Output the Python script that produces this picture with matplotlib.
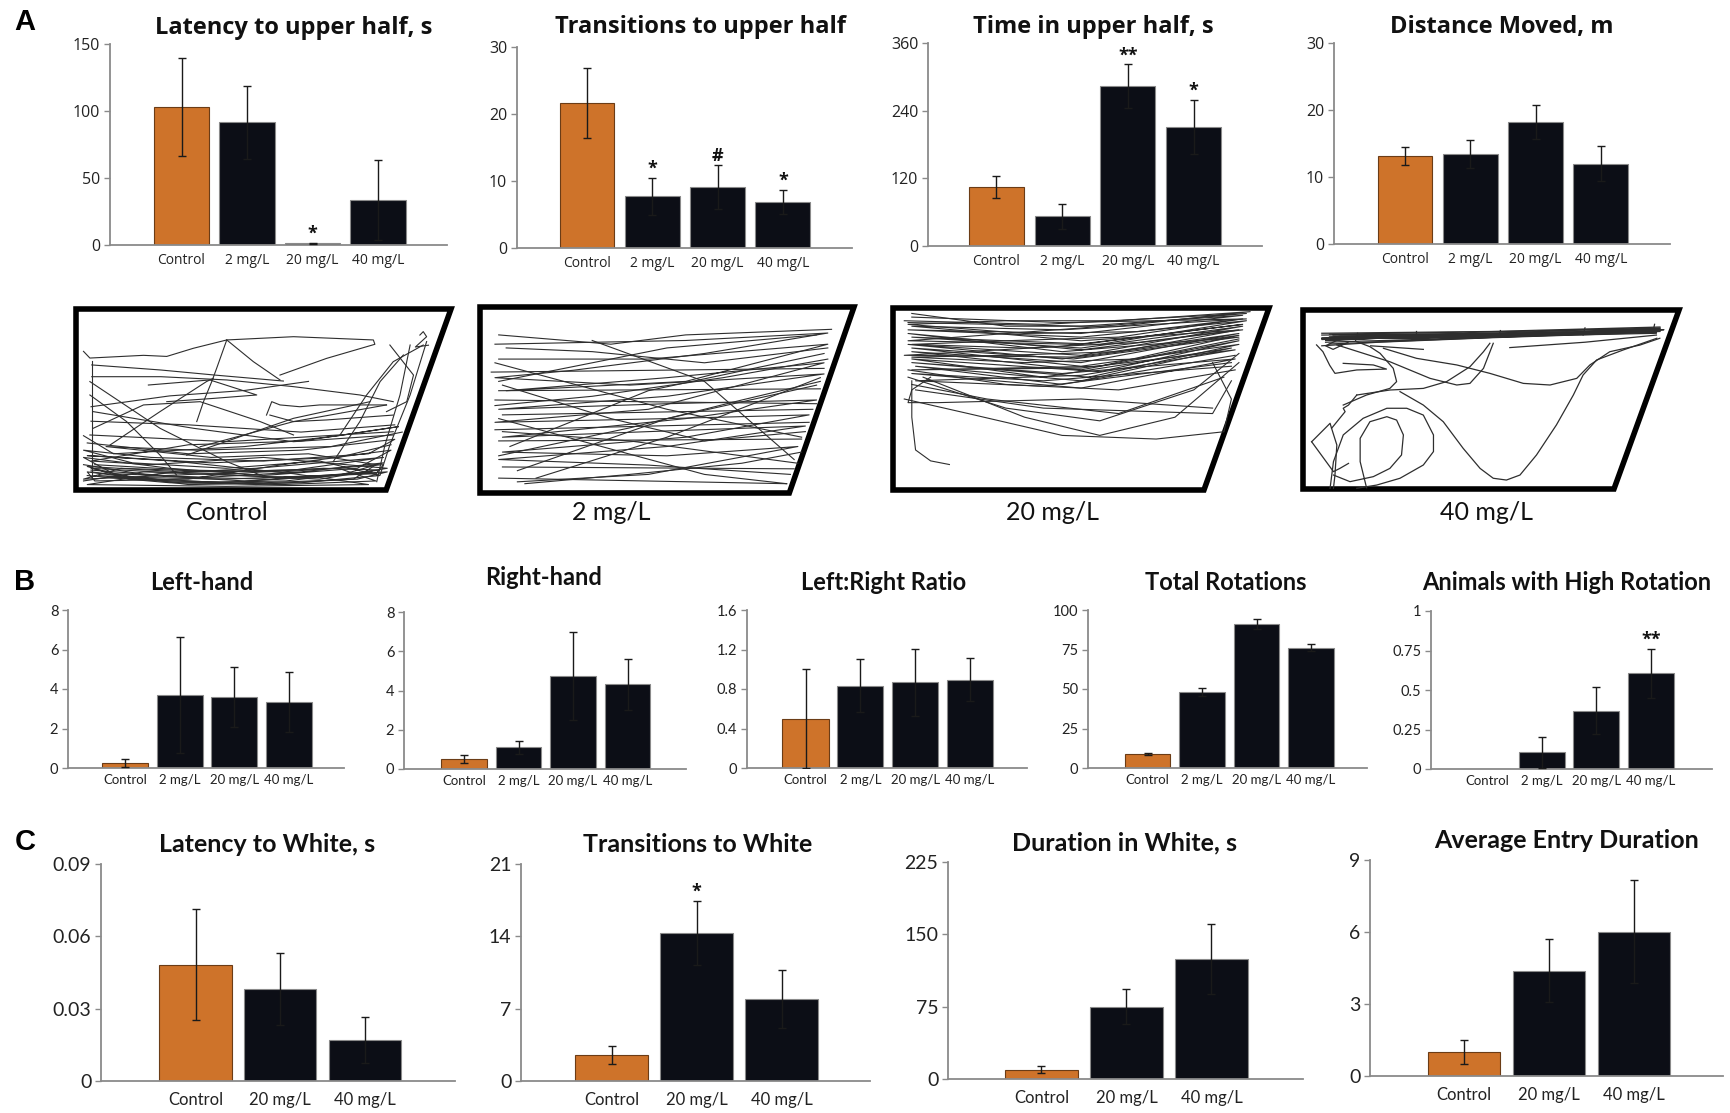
import matplotlib
matplotlib.use('Agg')
import matplotlib.pyplot as plt
from matplotlib import font_manager as fm
from matplotlib.patches import Polygon

W, H = 1730, 1113
fig = plt.figure(figsize=(W / 100, H / 100), dpi=100)

avail = {f.name for f in fm.fontManager.ttflist}


def pick(*names):
    for n in names:
        if n in avail:
            return n
    return 'DejaVu Sans'


FA = pick('Open Sans', 'Lato')
FB = pick('Lato', 'Open Sans')
FL = pick('Liberation Sans', 'DejaVu Sans')

ORANGE = '#CE732A'
DARK = '#0C0E16'
SPINE = '#8A8A8A'
TXT = '#222222'

# ---------------- data ----------------
cats4 = ['Control', '2 mg/L', '20 mg/L', '40 mg/L']
cats3 = ['Control', '20 mg/L', '40 mg/L']

latency_upper = [103, 91.5, 1.2, 33.6]
latency_upper_err = [36.5, 27, 0.3, 29.5]
transitions_upper = [21.6, 7.7, 9.1, 6.9]
transitions_upper_err = [5.2, 2.8, 3.3, 1.8]
time_upper = [105, 53, 283, 211]
time_upper_err = [19.5, 22, 39, 48.5]
distance = [13.2, 13.4, 18.2, 12.0]
distance_err = [1.35, 2.1, 2.6, 2.6]

left_hand = [0.25, 3.7, 3.6, 3.33]
left_hand_err = [0.2, 2.95, 1.5, 1.53]
right_hand = [0.51, 1.1, 4.75, 4.32]
right_hand_err = [0.19, 0.32, 2.23, 1.3]
lr_ratio = [0.5, 0.835, 0.866, 0.896]
lr_ratio_err = [0.5, 0.27, 0.34, 0.22]
total_rot = [9.0, 48, 91, 76.2]
total_rot_err = [0.5, 2.5, 3.3, 2.1]
high_rot = [0.0, 0.105, 0.369, 0.605]
high_rot_err = [0.0, 0.1, 0.15, 0.155]

lat_white = [0.0483, 0.0382, 0.017]
lat_white_err = [0.023, 0.0148, 0.0096]
trans_white = [2.52, 14.3, 7.9]
trans_white_err = [0.87, 3.1, 2.8]
dur_white = [9.6, 75.1, 124.4]
dur_white_err = [3.5, 18, 36]
avg_entry = [0.99, 4.39, 6.01]
avg_entry_err = [0.5, 1.3, 2.14]

ticks_lat_upper = [0, 50, 100, 150]
ticks_trans_upper = [0, 10, 20, 30]
ticks_time_upper = [0, 120, 240, 360]
ticks_distance = [0, 10, 20, 30]
ticks_left = [0, 2, 4, 6, 8]
ticks_right = [0, 2, 4, 6, 8]
ticks_lr = [0, 0.4, 0.8, 1.2, 1.6]
ticks_total = [0, 25, 50, 75, 100]
ticks_high = [0, 0.25, 0.5, 0.75, 1]
ticklabels_high = ['0', '0.25', '0.5', '0.75', '1']
ticks_lat_white = [0, 0.03, 0.06, 0.09]
ticks_trans_white = [0, 7, 14, 21]
ticks_dur_white = [0, 75, 150, 225]
ticks_avg_entry = [0, 3, 6, 9]

# trajectory traces (arena units: x 0 = left wall, 1 = top-right corner; y 0 = bottom, 1 = top)
ctrl_paths = [
    [(0.02, 0.14), (0.20, 0.08), (0.45, 0.05), (0.70, 0.08), (0.82, 0.15), (0.60, 0.10), (0.35, 0.07), (0.10, 0.09), (0.02, 0.18), (0.25, 0.12), (0.50, 0.08), (0.75, 0.12), (0.84, 0.22), (0.55, 0.14), (0.30, 0.06), (0.05, 0.05), (0.03, 0.10), (0.30, 0.03), (0.60, 0.04), (0.81, 0.08), (0.65, 0.16), (0.40, 0.12), (0.15, 0.15), (0.02, 0.22), (0.20, 0.18), (0.50, 0.16), (0.78, 0.20), (0.85, 0.28), (0.60, 0.22), (0.30, 0.20), (0.03, 0.26)],
    [(0.03, 0.08), (0.25, 0.04), (0.55, 0.03), (0.80, 0.05), (0.70, 0.12), (0.40, 0.10), (0.12, 0.12), (0.02, 0.06), (0.35, 0.09), (0.65, 0.06), (0.83, 0.12), (0.50, 0.18), (0.20, 0.14), (0.04, 0.16), (0.30, 0.25), (0.60, 0.27), (0.86, 0.35), (0.70, 0.30), (0.45, 0.24), (0.10, 0.20), (0.02, 0.30)],
    [(0.04, 0.11), (0.30, 0.07), (0.52, 0.06), (0.79, 0.10), (0.62, 0.07), (0.38, 0.04), (0.14, 0.06), (0.03, 0.13), (0.28, 0.10), (0.58, 0.11), (0.82, 0.18), (0.48, 0.12), (0.22, 0.09), (0.03, 0.03), (0.40, 0.02), (0.78, 0.03), (0.58, 0.09), (0.26, 0.16), (0.03, 0.19), (0.36, 0.15), (0.70, 0.18), (0.84, 0.25)],
    [(0.02, 0.05), (0.18, 0.10), (0.42, 0.09), (0.66, 0.12), (0.81, 0.11), (0.56, 0.05), (0.28, 0.04), (0.06, 0.08), (0.22, 0.06), (0.48, 0.03), (0.74, 0.06), (0.80, 0.14), (0.62, 0.20), (0.36, 0.18), (0.08, 0.24), (0.32, 0.22), (0.68, 0.24), (0.87, 0.32)],
    [(0.04, 0.10), (0.25, 0.05), (0.50, 0.04), (0.75, 0.06), (0.83, 0.10), (0.65, 0.08), (0.40, 0.06), (0.15, 0.07), (0.04, 0.12), (0.30, 0.09), (0.55, 0.07), (0.80, 0.09), (0.82, 0.14), (0.55, 0.10), (0.30, 0.11), (0.05, 0.14)],
    [(0.020, 0.766), (0.037, 0.729), (0.180, 0.744), (0.242, 0.738), (0.313, 0.783), (0.402, 0.829), (0.580, 0.847), (0.793, 0.829), (0.797, 0.805), (0.668, 0.727), (0.544, 0.635)],
    [(0.402, 0.829), (0.375, 0.672), (0.362, 0.599), (0.340, 0.488), (0.322, 0.378)],
    [(0.402, 0.829), (0.473, 0.709), (0.544, 0.608)],
    [(0.042, 0.691), (0.226, 0.663), (0.370, 0.635), (0.553, 0.602)],
    [(0.042, 0.626), (0.226, 0.626), (0.402, 0.608), (0.580, 0.571), (0.757, 0.525), (0.846, 0.488)],
    [(0.193, 0.580), (0.357, 0.608), (0.482, 0.525), (0.366, 0.506), (0.242, 0.488)],
    [(0.508, 0.414), (0.522, 0.488), (0.544, 0.470), (0.597, 0.460), (0.650, 0.470), (0.828, 0.470)],
    [(0.517, 0.414), (0.580, 0.378), (0.668, 0.387), (0.846, 0.414)],
    [(0.331, 0.239), (0.580, 0.378), (0.828, 0.470)],
    [(0.935, 0.820), (0.891, 0.525), (0.837, 0.249), (0.811, 0.083)],
    [(0.891, 0.801), (0.864, 0.525), (0.824, 0.249), (0.802, 0.046)],
    [(0.837, 0.801), (0.900, 0.635), (0.882, 0.488), (0.828, 0.433)],
    [(0.704, 0.304), (0.775, 0.525), (0.846, 0.709), (0.926, 0.801)],
    [(0.686, 0.157), (0.757, 0.378), (0.811, 0.599), (0.873, 0.746)],
    [(0.917, 0.856), (0.926, 0.875), (0.935, 0.847), (0.905, 0.790), (0.940, 0.800)],
    [(0.037, 0.599), (0.224, 0.341), (0.402, 0.157), (0.491, 0.083)],
    [(0.037, 0.525), (0.135, 0.378), (0.224, 0.193), (0.268, 0.083)],
    [(0.091, 0.249), (0.224, 0.433), (0.348, 0.599), (0.366, 0.617)],
    [(0.046, 0.341), (0.180, 0.470), (0.331, 0.488), (0.491, 0.378), (0.580, 0.304)],
    [(0.295, 0.193), (0.580, 0.396), (0.784, 0.488)],
    [(0.046, 0.433), (0.313, 0.341), (0.580, 0.267), (0.846, 0.304)],
    [(0.037, 0.304), (0.402, 0.267), (0.846, 0.322)],
    [(0.042, 0.710), (0.042, 0.065)],
    [(0.04, 0.38), (0.30, 0.36), (0.60, 0.32), (0.85, 0.36)],
    [(0.04, 0.46), (0.25, 0.52), (0.45, 0.55), (0.62, 0.60)],
]

mg2_paths = [
    [(0.04, 0.80), (0.55, 0.82), (0.93, 0.86), (0.60, 0.75), (0.25, 0.66), (0.04, 0.62), (0.40, 0.58), (0.92, 0.64), (0.50, 0.52), (0.05, 0.45), (0.50, 0.48), (0.90, 0.50), (0.55, 0.40), (0.06, 0.30), (0.45, 0.33), (0.87, 0.36), (0.50, 0.25), (0.05, 0.18), (0.45, 0.15), (0.83, 0.10)],
    [(0.05, 0.72), (0.45, 0.72), (0.93, 0.80), (0.55, 0.60), (0.07, 0.55), (0.50, 0.62), (0.92, 0.70), (0.45, 0.45), (0.04, 0.38), (0.50, 0.40), (0.88, 0.42), (0.55, 0.30), (0.06, 0.22), (0.50, 0.20), (0.85, 0.25), (0.45, 0.10), (0.10, 0.06)],
    [(0.05, 0.60), (0.50, 0.78), (0.90, 0.85)],
    [(0.08, 0.25), (0.45, 0.55), (0.92, 0.75)],
    [(0.10, 0.12), (0.50, 0.40), (0.90, 0.58)],
    [(0.05, 0.40), (0.60, 0.10), (0.82, 0.05)],
    [(0.04, 0.70), (0.50, 0.45), (0.86, 0.30)],
    [(0.30, 0.82), (0.60, 0.60), (0.84, 0.18)],
    [(0.15, 0.08), (0.50, 0.30), (0.91, 0.62)],
    [(0.05, 0.85), (0.35, 0.80), (0.55, 0.85), (0.94, 0.88)],
    [(0.03, 0.65), (0.92, 0.67)],
    [(0.04, 0.50), (0.90, 0.48)],
    [(0.04, 0.34), (0.88, 0.38)],
    [(0.06, 0.14), (0.84, 0.13)],
    [(0.05, 0.55), (0.91, 0.56)],
    [(0.06, 0.42), (0.89, 0.45)],
    [(0.05, 0.28), (0.86, 0.29)],
    [(0.05, 0.08), (0.82, 0.05)],
    [(0.07, 0.78), (0.30, 0.76), (0.60, 0.70), (0.93, 0.78)],
    [(0.04, 0.47), (0.30, 0.52), (0.65, 0.62), (0.93, 0.72)],
    [(0.06, 0.33), (0.40, 0.28), (0.70, 0.20), (0.85, 0.16)],
    [(0.12, 0.05), (0.40, 0.10), (0.70, 0.16), (0.86, 0.22)],
    [(0.05, 0.20), (0.40, 0.35), (0.70, 0.50), (0.91, 0.60)],
    [(0.06, 0.58), (0.35, 0.40), (0.60, 0.28), (0.87, 0.33)],
]

mg20_paths = [
    [(0.04, 0.92), (0.50, 0.90), (0.93, 0.96), (0.50, 0.86), (0.04, 0.88), (0.50, 0.84), (0.94, 0.93), (0.55, 0.80), (0.05, 0.84), (0.50, 0.78), (0.93, 0.90), (0.50, 0.74), (0.04, 0.80), (0.45, 0.72), (0.92, 0.86), (0.50, 0.70), (0.05, 0.76), (0.50, 0.66), (0.92, 0.82), (0.55, 0.65), (0.05, 0.72), (0.40, 0.62), (0.90, 0.78), (0.50, 0.60), (0.06, 0.68), (0.45, 0.58), (0.91, 0.74)],
    [(0.05, 0.95), (0.45, 0.92), (0.94, 0.94), (0.45, 0.88), (0.05, 0.90), (0.50, 0.82), (0.93, 0.88), (0.50, 0.77), (0.04, 0.86), (0.45, 0.76), (0.92, 0.84), (0.48, 0.72), (0.05, 0.78), (0.50, 0.68), (0.92, 0.80), (0.52, 0.62), (0.05, 0.70), (0.45, 0.64), (0.91, 0.72), (0.50, 0.56), (0.05, 0.64), (0.40, 0.60), (0.90, 0.68)],
    [(0.03, 0.93), (0.40, 0.91), (0.94, 0.97), (0.50, 0.89), (0.04, 0.82), (0.50, 0.80), (0.93, 0.91), (0.45, 0.79), (0.03, 0.74), (0.50, 0.73), (0.92, 0.85), (0.55, 0.68), (0.05, 0.66), (0.50, 0.67), (0.91, 0.77), (0.50, 0.63), (0.06, 0.60), (0.40, 0.57), (0.90, 0.70)],
    [(0.05, 0.97), (0.30, 0.90), (0.60, 0.90), (0.95, 0.98), (0.60, 0.93), (0.30, 0.93), (0.04, 0.91), (0.35, 0.86), (0.65, 0.87), (0.93, 0.94), (0.60, 0.84), (0.30, 0.82), (0.05, 0.80), (0.35, 0.78), (0.65, 0.81), (0.92, 0.88), (0.60, 0.76), (0.30, 0.74), (0.05, 0.73), (0.35, 0.70), (0.65, 0.72), (0.92, 0.83)],
    [(0.04, 0.62), (0.30, 0.45), (0.55, 0.38), (0.80, 0.55), (0.92, 0.75)],
    [(0.05, 0.58), (0.25, 0.50), (0.60, 0.42), (0.88, 0.62)],
    [(0.03, 0.50), (0.20, 0.42), (0.45, 0.30), (0.70, 0.28), (0.88, 0.32), (0.90, 0.50), (0.85, 0.70)],
    [(0.06, 0.55), (0.40, 0.45), (0.85, 0.42), (0.90, 0.60)],
    [(0.08, 0.62), (0.35, 0.40), (0.55, 0.30), (0.75, 0.40), (0.92, 0.70)],
    [(0.05, 0.60), (0.05, 0.40), (0.06, 0.22), (0.10, 0.16), (0.15, 0.14)],
    [(0.10, 0.62), (0.05, 0.55), (0.04, 0.48), (0.12, 0.48), (0.50, 0.50), (0.85, 0.45)],
    [(0.04, 0.66), (0.30, 0.58), (0.60, 0.55), (0.91, 0.66)],
]

mg40_paths = [
    [(0.05, 0.84), (0.30, 0.845), (0.60, 0.86), (0.95, 0.89), (0.60, 0.865), (0.30, 0.85), (0.06, 0.83), (0.35, 0.855), (0.65, 0.87), (0.95, 0.88), (0.65, 0.86), (0.30, 0.84), (0.05, 0.845), (0.40, 0.86), (0.70, 0.875), (0.95, 0.895), (0.70, 0.87), (0.35, 0.86), (0.07, 0.85), (0.40, 0.85), (0.70, 0.865), (0.94, 0.885)],
    [(0.06, 0.82), (0.30, 0.835), (0.55, 0.85), (0.80, 0.87), (0.95, 0.89), (0.75, 0.875), (0.45, 0.865), (0.10, 0.855), (0.05, 0.835), (0.30, 0.855), (0.60, 0.87), (0.85, 0.88), (0.94, 0.87), (0.60, 0.855), (0.30, 0.83), (0.07, 0.81)],
    [(0.08, 0.86), (0.40, 0.865), (0.75, 0.88), (0.95, 0.90), (0.70, 0.885), (0.40, 0.875), (0.07, 0.865), (0.45, 0.855), (0.80, 0.87), (0.96, 0.89), (0.70, 0.865), (0.45, 0.87), (0.10, 0.84), (0.06, 0.80), (0.08, 0.78), (0.12, 0.82)],
    [(0.05, 0.86), (0.50, 0.87), (0.95, 0.905), (0.50, 0.88), (0.05, 0.87)],
    [(0.05, 0.80), (0.20, 0.82), (0.50, 0.845), (0.94, 0.875)],
    [(0.55, 0.79), (0.75, 0.82), (0.94, 0.86)],
    [(0.18, 0.80), (0.32, 0.78)],
    [(0.30, 0.84), (0.30, 0.88)], [(0.745, 0.86), (0.75, 0.90)], [(0.93, 0.87), (0.935, 0.92)],
    [(0.52, 0.85), (0.525, 0.885)], [(0.14, 0.83), (0.145, 0.87)],
    [(0.036, 0.805), (0.053, 0.767), (0.071, 0.691), (0.085, 0.646), (0.143, 0.665), (0.222, 0.670), (0.187, 0.693), (0.107, 0.702)],
    [(0.090, 0.805), (0.231, 0.711), (0.338, 0.618), (0.409, 0.581), (0.444, 0.590), (0.480, 0.674), (0.506, 0.814)],
    [(0.214, 0.786), (0.302, 0.730), (0.409, 0.693), (0.497, 0.646), (0.586, 0.590), (0.657, 0.581), (0.728, 0.618), (0.763, 0.693), (0.816, 0.767), (0.896, 0.804), (0.949, 0.842)],
    [(0.143, 0.525), (0.231, 0.553), (0.320, 0.562), (0.382, 0.600), (0.444, 0.683), (0.480, 0.767), (0.497, 0.814)],
    [(0.258, 0.544), (0.320, 0.469), (0.373, 0.376), (0.426, 0.227), (0.471, 0.115), (0.506, 0.060), (0.541, 0.050), (0.577, 0.078), (0.621, 0.190), (0.674, 0.358), (0.719, 0.525), (0.745, 0.637), (0.781, 0.721), (0.852, 0.777), (0.941, 0.842)],
    [(0.107, 0.469), (0.169, 0.525), (0.231, 0.562), (0.249, 0.600), (0.240, 0.674), (0.205, 0.758), (0.178, 0.795), (0.143, 0.823)],
    [(0.072, 0.004), (0.081, 0.153), (0.107, 0.302), (0.160, 0.395), (0.223, 0.451), (0.276, 0.451), (0.320, 0.413), (0.347, 0.302), (0.347, 0.209), (0.320, 0.134), (0.258, 0.060), (0.196, 0.022), (0.143, 0.004)],
    [(0.169, 0.007), (0.152, 0.153), (0.152, 0.283), (0.178, 0.376), (0.223, 0.404), (0.249, 0.385), (0.267, 0.302), (0.262, 0.190), (0.231, 0.115), (0.187, 0.069), (0.125, 0.041), (0.081, 0.078)],
    [(0.023, 0.264), (0.072, 0.367), (0.076, 0.339), (0.112, 0.432), (0.107, 0.451), (0.121, 0.469), (0.143, 0.525)],
    [(0.023, 0.264), (0.081, 0.097), (0.098, 0.115), (0.121, 0.143)],
    [(0.076, 0.339), (0.090, 0.246), (0.085, 0.078), (0.081, 0.004)],
]

arena_labels = ['Control', '2 mg/L', '20 mg/L', '40 mg/L']


# ---------------- helpers ----------------
def add_ax(x0, y0, x1, y1):
    return fig.add_axes([x0 / W, 1 - y1 / H, (x1 - x0) / W, (y1 - y0) / H])


def ftext(x, y, s, **kw):
    fig.text(x / W, 1 - y / H, s, **kw)


def bar_panel(box, c0, step, cats, vals, errs, yticks, title, tpos, font, tsize,
              ysize, xsize, xpad, width=0.84, ylabels=None, annots=(), asize=13):
    x0, y0, x1, y1 = box
    ax = add_ax(x0, y0, x1, y1)
    pos = list(range(len(cats)))
    colors = [ORANGE] + [DARK] * (len(cats) - 1)
    edges = ['#6B3C16'] + ['#8A8A8A'] * (len(cats) - 1)
    ax.bar(pos, vals, width=width, color=colors, edgecolor=edges, linewidth=0.8, zorder=2)
    ep = [p for p, e in zip(pos, errs) if e > 0]
    ev = [v for v, e in zip(vals, errs) if e > 0]
    ee = [e for e in errs if e > 0]
    ax.errorbar(ep, ev, yerr=ee, fmt='none', ecolor='#1a1a1a', elinewidth=1.0,
                capsize=3, capthick=1.0, zorder=3)
    ax.set_xlim((x0 - c0) / step, (x1 - c0) / step)
    ax.set_ylim(yticks[0], yticks[-1])
    ax.set_yticks(yticks)
    if ylabels is None:
        ylabels = [('%g' % t) for t in yticks]
    ax.set_yticklabels(ylabels, fontfamily=font, fontsize=ysize, color=TXT)
    ax.set_xticks(pos)
    ax.set_xticklabels(cats, fontfamily=font, fontsize=xsize, color=TXT)
    ax.tick_params(axis='x', length=0, pad=xpad)
    ax.tick_params(axis='y', length=4, width=1.0, color=SPINE, pad=3)
    for s in ('top', 'right'):
        ax.spines[s].set_visible(False)
    for s in ('left', 'bottom'):
        ax.spines[s].set_color(SPINE)
        ax.spines[s].set_linewidth(1.3)
    ax.set_facecolor('none')
    for idx, sym in annots:
        ax.annotate(sym, (pos[idx], vals[idx] + errs[idx]), xytext=(0, 0),
                    textcoords='offset points', ha='center', va='bottom',
                    fontsize=asize, fontweight='bold', fontfamily=FA, color='#111111')
    ftext(tpos[0], tpos[1], title, ha='center', va='center', fontsize=tsize,
          fontweight='bold', fontfamily=font, color='#111111')
    return ax


TRAP = [(0, 1), (1, 1), (0.827, 0), (0, 0)]


def arena(box, paths, label, lpos, lw=0.8):
    ax = add_ax(*box)
    ax.set_xlim(0, 1)
    ax.set_ylim(0, 1)
    ax.axis('off')
    for p in paths:
        ax.plot([q[0] for q in p], [q[1] for q in p], color='#2E2E2E', lw=lw,
                solid_joinstyle='round')
    ax.add_patch(Polygon(TRAP, closed=True, fill=False, lw=4.0, ec='black',
                         joinstyle='miter', clip_on=False))
    ftext(lpos[0], lpos[1], label, ha='center', va='center', fontsize=18,
          fontfamily=FB, color='#111111')


# ---------------- Row A ----------------
ftext(25, 22, 'A', ha='center', va='center', fontsize=21, fontweight='bold', fontfamily=FL)
bar_panel((110, 44, 447, 245), 181.5, 65.5, cats4, latency_upper, latency_upper_err,
          ticks_lat_upper, 'Latency to upper half, s', (294, 28), FA, 17, 11.5, 10, 6,
          annots=[(2, '*')])
bar_panel((517, 47, 852, 248), 587, 65.3, cats4, transitions_upper, transitions_upper_err,
          ticks_trans_upper, 'Transitions to upper half', (700, 27), FA, 17, 11.5, 10, 6,
          annots=[(1, '*'), (2, '#'), (3, '*')])
bar_panel((928, 43, 1262, 246), 996.5, 65.7, cats4, time_upper, time_upper_err,
          ticks_time_upper, 'Time in upper half, s', (1093, 27), FA, 17, 11.5, 10, 6,
          annots=[(2, '**'), (3, '*')])
bar_panel((1334, 43, 1670, 244), 1405, 65.3, cats4, distance, distance_err,
          ticks_distance, 'Distance Moved, m', (1502, 27), FA, 17, 11.5, 10, 6)

# arenas
arena((76, 309, 451, 490), ctrl_paths, arena_labels[0], (227, 513))
arena((480, 307, 854, 493), mg2_paths, arena_labels[1], (611, 513))
arena((893, 308, 1269, 490), mg20_paths, arena_labels[2], (1053, 513))
arena((1303, 310, 1679, 489), mg40_paths, arena_labels[3], (1487, 513), lw=0.9)

# ---------------- Row B ----------------
ftext(25, 582, 'B', ha='center', va='center', fontsize=21, fontweight='bold', fontfamily=FL)
bar_panel((68, 610, 344, 768), 125, 54.7, cats4, left_hand, left_hand_err, ticks_left,
          'Left-hand', (202, 582), FB, 17, 10.5, 9.5, 4.5)
bar_panel((404, 612, 686, 769), 464, 54.5, cats4, right_hand, right_hand_err, ticks_right,
          'Right-hand', (544, 578), FB, 17, 10.5, 9.5, 4.5)
bar_panel((747, 610, 1027, 768), 805.5, 54.8, cats4, lr_ratio, lr_ratio_err, ticks_lr,
          'Left:Right Ratio', (884, 583), FB, 17, 10.5, 9.5, 4.5)
bar_panel((1088, 610, 1367, 768), 1147.5, 54.5, cats4, total_rot, total_rot_err, ticks_total,
          'Total Rotations', (1226, 583), FB, 17, 10.5, 9.5, 4.5)
bar_panel((1431, 611, 1712, 769), 1487, 54.7, cats4, high_rot, high_rot_err, ticks_high,
          'Animals with High Rotation', (1567, 583), FB, 17, 10.5, 9.5, 4.5,
          ylabels=ticklabels_high, annots=[(3, '**')])

# ---------------- Row C ----------------
ftext(25, 842, 'C', ha='center', va='center', fontsize=21, fontweight='bold', fontfamily=FL)
bar_panel((101, 864, 455, 1081), 195.5, 84.8, cats3, lat_white, lat_white_err, ticks_lat_white,
          'Latency to White, s', (267, 844), FB, 18, 14, 12, 8, width=0.85)
bar_panel((521, 864, 870, 1081), 611.5, 85, cats3, trans_white, trans_white_err, ticks_trans_white,
          'Transitions to White', (698, 844), FB, 18, 14, 12, 8, width=0.85,
          annots=[(1, '*')])
bar_panel((948, 862, 1303, 1079), 1041.5, 85, cats3, dur_white, dur_white_err, ticks_dur_white,
          'Duration in White, s', (1124, 843), FB, 18, 14, 12, 8, width=0.85)
bar_panel((1370, 860, 1723, 1076), 1464, 85, cats3, avg_entry, avg_entry_err, ticks_avg_entry,
          'Average Entry Duration', (1567, 840), FB, 18, 14, 12, 8, width=0.85)

fig.savefig('out.png', dpi=100, facecolor='white')
